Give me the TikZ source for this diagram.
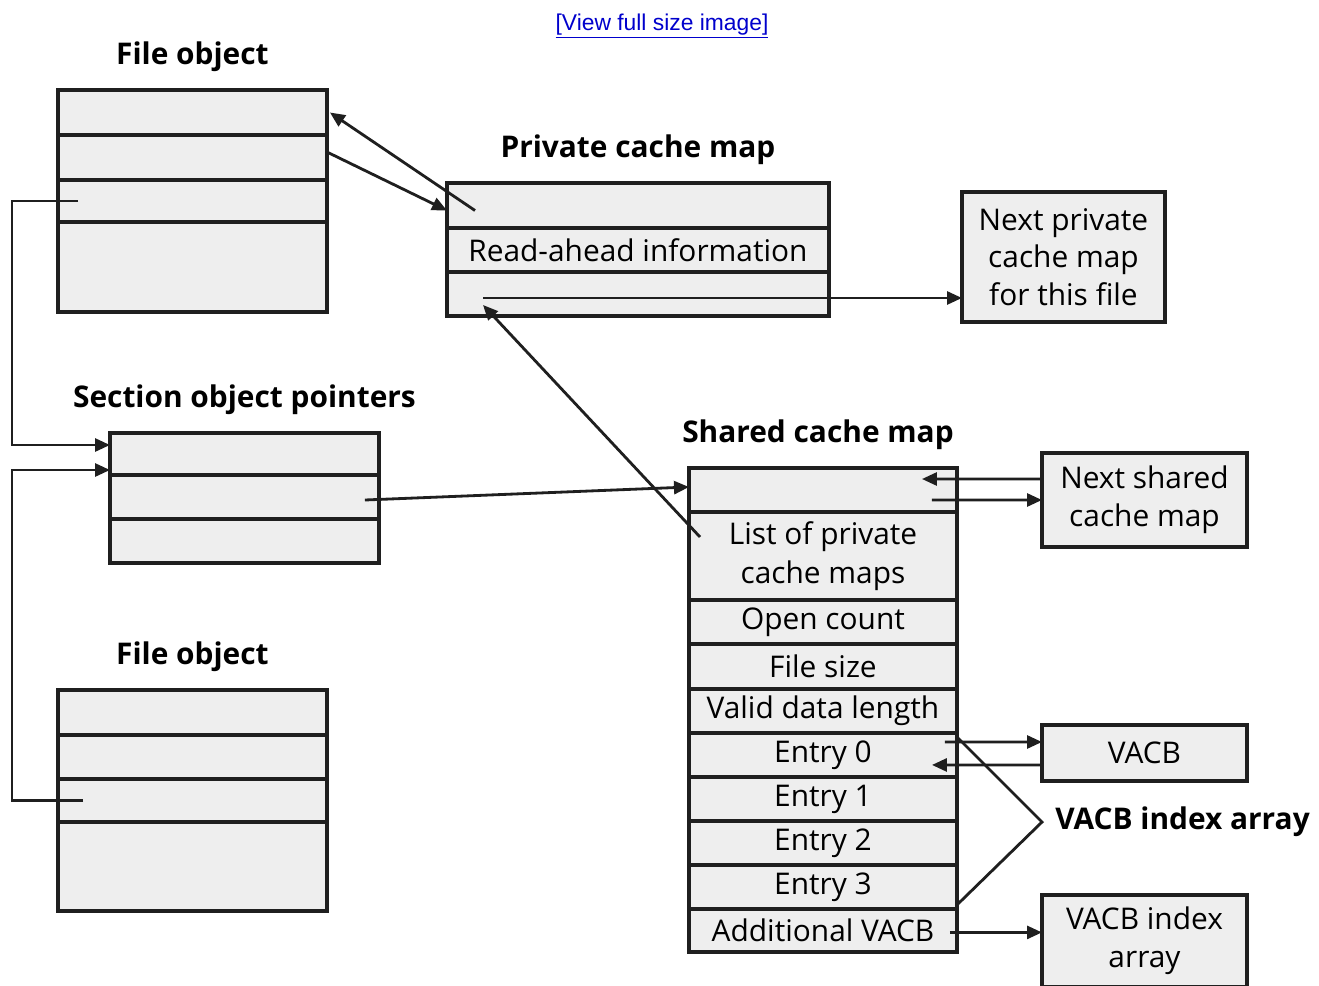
\documentclass[tikz,border=0pt]{standalone}
\usepackage{fontspec}
\setmainfont{Open Sans}
\setsansfont{Liberation Sans}
\usepackage{xcolor}
\usepackage{tikz}
\usetikzlibrary{arrows.meta, positioning, calc}
\definecolor{linkblue}{RGB}{0,0,204}
\definecolor{cellgray}{RGB}{238,238,238}

\begin{document}
\begin{tikzpicture}[x=0.02cm, y=0.02cm,
    cell/.style={rectangle, draw=black!88, fill=cellgray, line width=2.2pt,
        outer sep=0pt, inner sep=0pt, minimum width=5.38cm, minimum height=0.88cm,
        font=\fontsize{17}{21.5}\selectfont, align=center},
    title/.style={font=\fontsize{17}{21}\selectfont\bfseries, inner sep=0pt},
    arr/.style={-{Triangle[length=3mm, width=2.6mm]}, line width=1.6pt, black!88},
    link/.style={line width=1.6pt, black!88},
]
\useasboundingbox (0,0) rectangle (1319,-985);
\clip (0,0) rectangle (1319,-985);

\node[font=\sffamily\fontsize{13}{15}\selectfont, text=linkblue] (viewlink) at (662,-26) {\underline{[View full size image]}};

% File object (top)
\node[cell, anchor=north west, minimum height=0.9cm] (fo1a) at (58,-90) {};
\node[cell, below=0pt of fo1a, minimum height=0.9cm] (fo1b) {};
\node[cell, below=0pt of fo1b, minimum height=0.84cm] (fo1c) {};
\node[cell, below=0pt of fo1c, minimum height=1.8cm] (fo1d) {};
\node[title, above=0.36cm of fo1a] (fo1t) {File object};

% Private cache map
\node[cell, anchor=north west, minimum width=7.64cm, minimum height=0.9cm] (pcm1) at (447,-183) {};
\node[cell, below=0pt of pcm1, minimum width=7.64cm] (pcm2) {Read-ahead information};
\node[cell, below=0pt of pcm2, minimum width=7.64cm] (pcm3) {};
\node[title, above=0.36cm of pcm1] (pcmt) {Private cache map};

\node[cell, anchor=north west, minimum width=4.06cm, minimum height=2.6cm] (nprv) at (962,-192) {Next private\\cache map\\for this file};

% Section object pointers
\node[cell, anchor=north west, minimum height=0.84cm] (sop1) at (110,-433) {};
\node[cell, below=0pt of sop1] (sop2) {};
\node[cell, below=0pt of sop2] (sop3) {};
\node[title, above=0.36cm of sop1] (sopt) {Section object pointers};

% Shared cache map
\node[cell, anchor=north west, minimum width=5.36cm] (scm1) at (689,-468) {};
\node[cell, below=0pt of scm1, minimum width=5.36cm, minimum height=1.76cm, font=\fontsize{17}{22.5}\selectfont] (scm2) {List of private\\cache maps};
\node[cell, below=0pt of scm2, minimum width=5.36cm] (scm3) {Open count};
\node[cell, below=0pt of scm3, minimum width=5.36cm, minimum height=0.9cm] (scm4) {File size};
\node[cell, below=0pt of scm4, minimum width=5.36cm] (scm5) {Valid data length};
\node[cell, below=0pt of scm5, minimum width=5.36cm] (e0) {Entry 0};
\node[cell, below=0pt of e0, minimum width=5.36cm] (e1) {Entry 1};
\node[cell, below=0pt of e1, minimum width=5.36cm] (e2) {Entry 2};
\node[cell, below=0pt of e2, minimum width=5.36cm] (e3) {Entry 3};
\node[cell, below=0pt of e3, minimum width=5.36cm, minimum height=0.86cm] (addl) {Additional VACB};
\node[title, above=0.36cm of scm1, xshift=-0.1cm] (scmt) {Shared cache map};

\node[cell, anchor=north west, minimum width=4.1cm, minimum height=1.88cm] (nsh) at (1042,-453) {Next shared\\cache map};
\node[cell, anchor=north west, minimum width=4.1cm, minimum height=1.12cm] (vacb) at (1042,-725) {VACB};
\node[cell, anchor=north west, minimum width=4.1cm, minimum height=1.84cm] (vidx) at (1042,-895) {VACB index\\array};

% File object (bottom)
\node[cell, anchor=north west, minimum height=0.9cm] (fo2a) at (58,-690) {};
\node[cell, below=0pt of fo2a] (fo2b) {};
\node[cell, below=0pt of fo2b, minimum height=0.86cm] (fo2c) {};
\node[cell, below=0pt of fo2c, minimum height=1.78cm] (fo2d) {};
\node[title, above=0.36cm of fo2a] (fo2t) {File object};

% File object <-> private cache map
\draw[arr] ($(pcm1.west)+(28,-5)$) -- ($(fo1a.east)+(3,0)$);
\draw[arr] ($(fo1b.east)+(1,5)$) -- ($(pcm1.west)+(0,-5)$);
\coordinate (nxtp) at ($(pcm3.west)+(36,-4)$);
\draw[arr] (nxtp) -- (nxtp -| nprv.west);
\draw[arr] ($(scm2.west)+(11,19)$) -- ($(pcm3.west)+(36,-11)$);

% File objects -> section object pointers
\draw[arr] ($(fo1c.west)+(20,0)$) -- ++(-66,0) |- ($(sop1.west)+(0,9)$);
\draw[arr] ($(fo2c.west)+(25,0)$) -- ++(-71,0) |- ($(sop1.west)+(0,-16)$);
\draw[arr] ($(sop2.east)+(-14,-3)$) -- ($(scm1.west)+(0,3)$);

% Shared cache map links
\draw[arr] ($(nsh.west)+(0,21)$) -- ($(scm1.east)+(-35,11)$);
\draw[arr] ($(scm1.east)+(-25,-10)$) -- (nsh.west);
\draw[arr] ($(e0.east)+(-12,13)$) -- ($(vacb.west)+(0,11)$);
\draw[arr] ($(vacb.west)+(0,-12)$) -- ($(e0.east)+(-25,-10)$);

% VACB index array bracket
\coordinate (brtip) at (1042,-822);
\node[title, anchor=west, right=0.26cm of brtip] (idxlbl) {VACB index array};
\draw[link] ($(e0.north east)+(0,-4)$) -- (brtip) -- ($(e3.south east)+(0,4)$);
\coordinate (addst) at ($(addl.east)+(-7,-2)$);
\draw[arr] (addst) -- (addst -| vidx.west);
\end{tikzpicture}
\end{document}
